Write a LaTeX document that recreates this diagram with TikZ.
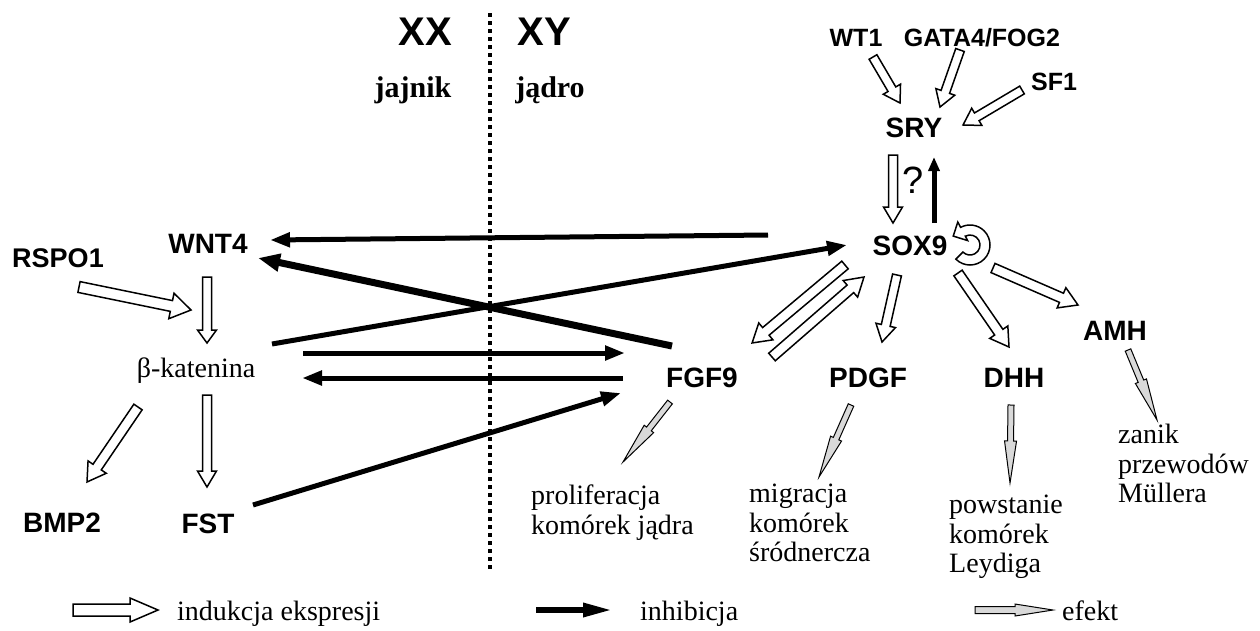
\documentclass[tikz,border=0pt]{standalone}
\usepackage{fontspec}
\setmainfont{Liberation Serif}
\setsansfont{Liberation Sans}
\usetikzlibrary{arrows.meta,calc}

% fat (outlined) arrow between two named coordinates
% #1 style, #2 from, #3 to, #4 half shaft width, #5 half head width, #6 head length
\newcommand\fatarrow[6]{%
  \pgfpointdiff{\pgfpointanchor{#2}{center}}{\pgfpointanchor{#3}{center}}%
  \pgfgetlastxy\fadx\fady
  \pgfmathsetmacro\faang{atan2(\fady,\fadx)}%
  \pgfmathsetmacro\falen{veclen(\fadx,\fady)}%
  \draw[#1, shift={(#2)}, rotate=\faang]
    (0,-#4) -- ({\falen-#6},-#4) -- ({\falen-#6},-#5) -- (\falen,0)
    -- ({\falen-#6},#5) -- ({\falen-#6},#4) -- (0,#4) -- cycle;
}

\begin{document}
\begin{tikzpicture}[x=1pt,y=-1pt,
  gene/.style={font=\sffamily\bfseries\fontsize{28}{30}\selectfont, inner sep=0pt, anchor=base},
  genesm/.style={gene, font=\sffamily\bfseries\fontsize{25}{28}\selectfont},
  sexlbl/.style={gene, font=\sffamily\bfseries\fontsize{40}{44}\selectfont},
  tissue/.style={inner sep=0pt, anchor=base, font=\bfseries\fontsize{30}{32}\selectfont},
  serif/.style={inner sep=0pt, font=\fontsize{28}{29.5}\selectfont},
  effect/.style={serif, align=left, anchor=north west},
  legtxt/.style={serif, anchor=base west},
  ind/.style={draw=black, fill=white, line width=1.5pt},
  eff/.style={draw=black, fill=gray!30, line width=1pt},
  inh/.style={line width=5pt, -{Triangle[length=20pt,width=14pt]}},
  inhthick/.style={line width=7pt, -{Triangle[length=22pt,width=17pt]}}
]
\useasboundingbox (0,0) rectangle (1260,630);

% ---- header
\node[sexlbl] (xx) at (425,45) {XX};
\node[sexlbl] (xy) at (544,45) {XY};
\node[tissue] (jajnik) at (413,97) {jajnik};
\node[tissue] (jadro) at (550,97) {jądro};
\coordinate (divtop) at (490,13);
\coordinate (divbot) at (490,572);
\draw[line width=4pt, dash pattern=on 4pt off 4pt] (divtop) -- (divbot);

% ---- genes
\node[genesm] (wt1) at (856,46) {WT1};
\node[genesm] (gata) at (982,46) {GATA4/FOG2};
\node[genesm] (sf1) at (1054,90) {SF1};
\node[gene] (sry) at (914,137) {SRY};
\node[gene] (sox9) at (910,255) {SOX9};
\node[font=\sffamily\fontsize{38}{40}\selectfont, inner sep=0pt] (q) at (913,180) {?};
\node[gene] (wnt4) at (208,253) {WNT4};
\node[gene, font=\sffamily\bfseries\fontsize{27}{30}\selectfont] (rspo1) at (58,267) {RSPO1};
\node[serif, anchor=base] (bk) at (196,377) {β-katenina};
\node[gene] (bmp2) at (62,532) {BMP2};
\node[gene] (fst) at (208,533) {FST};
\node[gene] (fgf9) at (702,387) {FGF9};
\node[gene] (pdgf) at (868,387) {PDGF};
\node[gene] (dhh) at (1014,387) {DHH};
\node[gene] (amh) at (1115,340) {AMH};

% ---- effects
\node[effect] (eproli) at (531,485) {proliferacja\\komórek jądra};
\node[effect] (emigr) at (749,484) {migracja\\komórek\\śródnercza};
\node[effect] (eleyd) at (949,495) {powstanie\\komórek\\Leydiga};
\node[effect] (emull) at (1118,424) {zanik\\przewodów\\Müllera};

% ---- induction arrows
\coordinate (a1) at (873,57);   \coordinate (b1) at (900,103);
\coordinate (a2) at (960,50);   \coordinate (b2) at (940,107);
\coordinate (a3) at (1022,90);  \coordinate (b3) at (963,125);
\coordinate (a4) at (893,155);  \coordinate (b4) at (893,223);
\coordinate (a5) at (79,287);   \coordinate (b5) at (191,310);
\coordinate (a6) at (207,277);  \coordinate (b6) at (207,343);
\coordinate (a7) at (138,407);  \coordinate (b7) at (87,482);
\coordinate (a8) at (207,395);  \coordinate (b8) at (207,487);
\coordinate (a9) at (845,265);  \coordinate (b9) at (752,343);
\coordinate (a10) at (772,357); \coordinate (b10) at (864,277);
\coordinate (a11) at (897,275); \coordinate (b11) at (882,342);
\coordinate (a12) at (958,273); \coordinate (b12) at (1009,347);
\coordinate (a13) at (993,268); \coordinate (b13) at (1078,305);
\fatarrow{ind}{a1}{b1}{4.5}{10}{16}
\fatarrow{ind}{a2}{b2}{4.5}{10}{16}
\fatarrow{ind}{a3}{b3}{4.5}{10}{16}
\fatarrow{ind}{a4}{b4}{4.5}{9.5}{16}
\fatarrow{ind}{a5}{b5}{5.5}{13}{20}
\fatarrow{ind}{a6}{b6}{4.5}{9.5}{13}
\fatarrow{ind}{a7}{b7}{5}{11}{18}
\fatarrow{ind}{a8}{b8}{4.5}{9.5}{16}
\fatarrow{ind}{a9}{b9}{5}{11}{18}
\fatarrow{ind}{a10}{b10}{5}{11}{18}
\fatarrow{ind}{a11}{b11}{4.5}{10}{17}
\fatarrow{ind}{a12}{b12}{5}{11}{18}
\fatarrow{ind}{a13}{b13}{5}{11}{18}

% SOX9 self-induction loop
\coordinate (loopc) at (970,245);
\begin{scope}[shift={(loopc)}]
  \draw[ind] (-225:20) arc[start angle=-225, end angle=-478, radius=20]
    -- (-478:26) -- (-512:19) -- (-478:5) -- (-478:10)
    arc[start angle=-478, end angle=-225, radius=10] -- cycle;
\end{scope}

% ---- inhibition arrows
\coordinate (i1a) at (934,223); \coordinate (i1b) at (934,157);
\coordinate (i2a) at (768,235); \coordinate (i2b) at (270,240);
\coordinate (i3a) at (672,346); \coordinate (i3b) at (258,258);
\coordinate (i4a) at (272,344); \coordinate (i4b) at (847,245);
\coordinate (i5a) at (303,353); \coordinate (i5b) at (625,353);
\coordinate (i6a) at (623,378); \coordinate (i6b) at (302,378);
\coordinate (i7a) at (253,505); \coordinate (i7b) at (621,393);
\draw[line width=5pt, -{Triangle[length=14pt,width=11pt]}] (i1a) -- (i1b);
\draw[inh] (i2a) -- (i2b);
\draw[inhthick] (i3a) -- (i3b);
\draw[inh] (i4a) -- (i4b);
\draw[inh] (i5a) -- (i5b);
\draw[inh] (i6a) -- (i6b);
\draw[inh] (i7a) -- (i7b);

% ---- effect arrows
\coordinate (e1a) at (670,402);  \coordinate (e1b) at (623,462);
\coordinate (e2a) at (851,405);  \coordinate (e2b) at (819,477);
\coordinate (e3a) at (1011,405); \coordinate (e3b) at (1010,483);
\coordinate (e4a) at (1128,350); \coordinate (e4b) at (1157,420);
\fatarrow{eff}{e1a}{e1b}{3}{6}{42}
\fatarrow{eff}{e2a}{e2b}{3}{6}{42}
\fatarrow{eff}{e3a}{e3b}{3}{6}{42}
\fatarrow{eff}{e4a}{e4b}{3}{6}{42}

% ---- legend
\coordinate (l1a) at (73,610);  \coordinate (l1b) at (158,610);
\coordinate (l2a) at (536,610); \coordinate (l2b) at (613,610);
\coordinate (l3a) at (975,610); \coordinate (l3b) at (1053,610);
\fatarrow{ind}{l1a}{l1b}{6}{12}{28}
\draw[line width=6pt, -{Triangle[length=30pt,width=13pt]}] (l2a) -- (l2b);
\fatarrow{eff}{l3a}{l3b}{3.5}{6}{38}
\node[legtxt] (lind) at (177,620) {indukcja ekspresji};
\node[legtxt] (linh) at (640,620) {inhibicja};
\node[legtxt] (leff) at (1062,620) {efekt};
\end{tikzpicture}
\end{document}
